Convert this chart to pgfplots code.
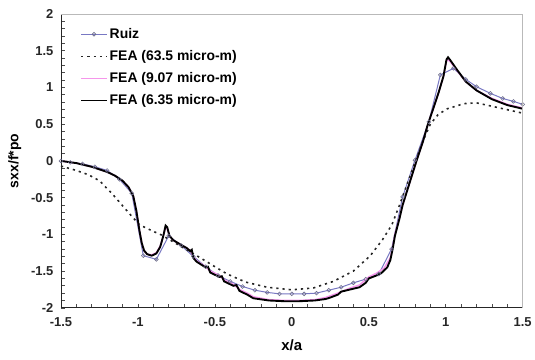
\documentclass[border=0pt]{standalone}
\usepackage{fontspec}
\setmainfont{Liberation Sans}
\usepackage{pgfplots}
\pgfplotsset{compat=1.18}
\definecolor{ruizline}{RGB}{120,120,195}
\definecolor{ruizmark}{RGB}{110,110,140}
\definecolor{pinkline}{RGB}{245,150,235}
\definecolor{framegray}{RGB}{185,185,185}
\begin{document}
\begin{tikzpicture}
\path (-61bp,-52bp) rectangle (474bp,308bp);
\begin{axis}[
  at={(0,0)}, anchor=south west,
  scale only axis, width=462bp, height=294bp,
  xmin=-1.5, xmax=1.5, ymin=-2, ymax=2,
  axis lines*=left,
  axis line style={black!85, line width=0.8pt},
  xtick={-1.5,-1,-0.5,0,0.5,1,1.5},
  ytick={-2,-1.5,-1,-0.5,0,0.5,1,1.5,2},
  minor x tick num=4, minor y tick num=4,
  tick align=inside,
  major tick length=4bp, minor tick length=4bp,
  tick style={black!70, line width=0.6pt},
  /pgf/number format/assume math mode=true,
  ticklabel style={font=\bfseries\fontsize{13}{15}\selectfont, text=black!85},
  xticklabel style={yshift=-6bp},
  yticklabel style={xshift=-4bp},
  xlabel={\bfseries\fontsize{15}{17}\selectfont x/a},
  ylabel={\bfseries\fontsize{14}{16}\selectfont sxx/f*po},
  xlabel style={at={(axis description cs:0.5,-0.126)}, anchor=center},
  ylabel style={at={(axis description cs:-0.1,0.5)}, anchor=center},
  legend style={draw=none, fill=none, at={(0.035,0.965)}, anchor=north west,
    font=\bfseries\fontsize{14}{16}\selectfont, row sep=6.5bp,
    /tikz/every even column/.append style={column sep=2bp}},
  legend cell align=left,
  legend image code/.code={\draw[mark repeat=2,mark phase=2,#1] plot coordinates {(0cm,0cm) (0.45cm,0cm) (0.9cm,0cm)};},
  after end axis/.code={\draw[framegray, line width=0.8pt] (rel axis cs:0,1) -- (rel axis cs:1,1) -- (rel axis cs:1,0);},
]
% Ruiz
\addplot[ruizline, line width=1pt, mark=o, mark size=1.9pt,
  mark options={ruizmark, line width=0.6pt, fill=white}] coordinates {
(-1.5,0.0) (-1.44,-0.02) (-1.36,-0.04) (-1.28,-0.08) (-1.2,-0.13) (-1.12,-0.25)
(-1.04,-0.44) (-0.965,-1.29) (-0.88,-1.34) (-0.8,-1.02) (-0.72,-1.15) (-0.64,-1.3)
(-0.56,-1.44) (-0.48,-1.56) (-0.4,-1.64) (-0.32,-1.71) (-0.24,-1.76) (-0.16,-1.79)
(-0.08,-1.81) (0,-1.81) (0.08,-1.81) (0.16,-1.8) (0.24,-1.76) (0.32,-1.72)
(0.4,-1.66) (0.48,-1.61) (0.565,-1.54) (0.648,-1.2) (0.72,-0.49) (0.8,0.01)
(0.89,0.53) (0.965,1.17) (1.05,1.26) (1.13,1.11) (1.2,1.01) (1.29,0.92)
(1.37,0.85) (1.44,0.81) (1.5,0.77)
};
\addlegendentry{Ruiz}
% FEA 63.5
\addplot[black!85, line width=1.6pt, dash pattern=on 2.2pt off 4pt] coordinates {
(-1.5,-0.07) (-1.4,-0.13) (-1.32,-0.19) (-1.25,-0.27) (-1.17,-0.44) (-1.1,-0.61)
(-1.05,-0.73) (-0.99,-0.87) (-0.91,-0.95) (-0.845,-1.01) (-0.74,-1.14) (-0.61,-1.3)
(-0.5,-1.44) (-0.42,-1.54) (-0.3,-1.65) (-0.16,-1.72) (0,-1.755) (0.14,-1.73)
(0.27,-1.64) (0.4,-1.5) (0.51,-1.29) (0.59,-1.07) (0.65,-0.87) (0.7,-0.6)
(0.79,-0.08) (0.85,0.26) (0.9,0.5) (0.95,0.63) (1.01,0.71) (1.12,0.78)
(1.2,0.79) (1.33,0.73) (1.5,0.65)
};
\addlegendentry{FEA (63.5 micro-m)}
% FEA 9.07
\addplot[pinkline, line width=1.6pt] coordinates {
(-1.5,0.0) (-1.4,-0.03) (-1.3,-0.08) (-1.2,-0.15) (-1.15,-0.2) (-1.1,-0.27)
(-1.06,-0.36) (-1.03,-0.48) (-1.01,-0.68) (-0.99,-0.95) (-0.975,-1.12) (-0.96,-1.22)
(-0.94,-1.27) (-0.91,-1.28) (-0.88,-1.25) (-0.855,-1.16) (-0.835,-1.02) (-0.82,-0.9)
(-0.81,-0.92) (-0.795,-1.02) (-0.77,-1.08) (-0.73,-1.13) (-0.68,-1.19) (-0.66,-1.22)
(-0.64,-1.3) (-0.62,-1.36) (-0.56,-1.44) (-0.53,-1.5) (-0.47,-1.56) (-0.44,-1.62)
(-0.38,-1.68) (-0.34,-1.75) (-0.29,-1.8) (-0.25,-1.85) (-0.15,-1.89) (-0.05,-1.9)
(0.05,-1.9) (0.15,-1.89) (0.22,-1.86) (0.3,-1.8) (0.38,-1.73) (0.44,-1.69)
(0.5,-1.58) (0.55,-1.53) (0.6,-1.46) (0.64,-1.32) (0.655,-1.18) (0.67,-1.0)
(0.7,-0.77) (0.72,-0.6) (0.75,-0.4) (0.78,-0.2) (0.81,0.0) (0.85,0.25)
(0.88,0.47) (0.92,0.72) (0.955,0.94) (0.985,1.15) (1.005,1.36) (1.015,1.38)
(1.03,1.35) (1.07,1.24) (1.13,1.08) (1.2,0.96) (1.3,0.85) (1.4,0.77) (1.5,0.72)
};
\addlegendentry{FEA (9.07 micro-m)}
% FEA 6.35
\addplot[black, line width=1.9pt] coordinates {
(-1.5,0.0) (-1.4,-0.03) (-1.3,-0.08) (-1.2,-0.15) (-1.15,-0.2) (-1.1,-0.27)
(-1.06,-0.36) (-1.03,-0.48) (-1.01,-0.68) (-0.99,-0.95) (-0.975,-1.12) (-0.96,-1.22)
(-0.94,-1.27) (-0.91,-1.29) (-0.88,-1.26) (-0.855,-1.17) (-0.835,-1.02) (-0.82,-0.88)
(-0.81,-0.9) (-0.795,-1.02) (-0.77,-1.08) (-0.73,-1.13) (-0.68,-1.19) (-0.66,-1.23)
(-0.65,-1.21) (-0.64,-1.32) (-0.62,-1.37) (-0.56,-1.45) (-0.545,-1.44) (-0.53,-1.52)
(-0.47,-1.58) (-0.455,-1.57) (-0.44,-1.64) (-0.38,-1.7) (-0.36,-1.69) (-0.34,-1.77)
(-0.29,-1.82) (-0.25,-1.87) (-0.15,-1.9) (-0.05,-1.91) (0.05,-1.91) (0.15,-1.9)
(0.22,-1.88) (0.25,-1.86) (0.3,-1.82) (0.32,-1.78) (0.38,-1.75) (0.44,-1.72)
(0.48,-1.66) (0.5,-1.6) (0.55,-1.56) (0.58,-1.53) (0.62,-1.45) (0.64,-1.35)
(0.655,-1.2) (0.67,-1.02) (0.7,-0.78) (0.72,-0.6) (0.75,-0.4) (0.78,-0.2)
(0.81,0.0) (0.85,0.25) (0.88,0.47) (0.92,0.72) (0.955,0.94) (0.985,1.15)
(1.005,1.38) (1.015,1.41) (1.03,1.37) (1.07,1.25) (1.13,1.08) (1.2,0.96)
(1.3,0.84) (1.4,0.76) (1.5,0.71)
};
\addlegendentry{FEA (6.35 micro-m)}
\end{axis}
\end{tikzpicture}
\end{document}
